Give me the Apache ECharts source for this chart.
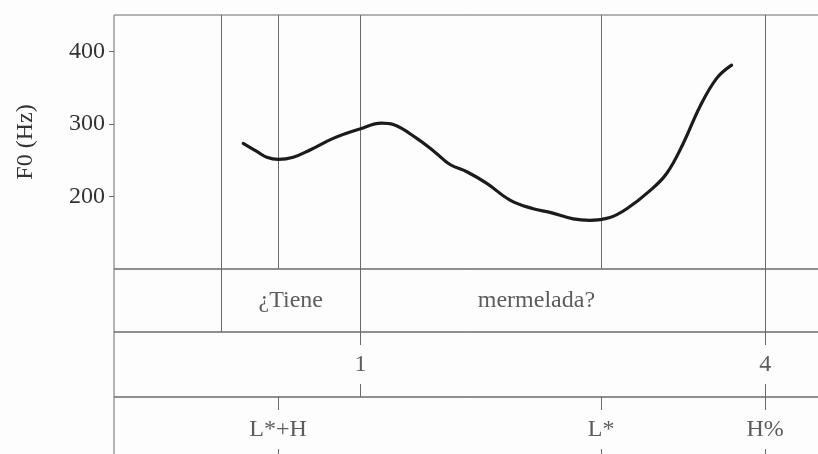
<!DOCTYPE html>
<html>
<head>
<meta charset="utf-8">
<title>F0 contour – ¿Tiene mermelada?</title>
<script src="https://cdn.jsdelivr.net/npm/echarts@6/dist/echarts.min.js"></script>
<style>
  html, body { margin: 0; padding: 0; background: #fdfdfd; }
  #chart { width: 818px; height: 454px; }
</style>
</head>
<body>
<div id="chart"></div>
<script>
// Pitch track (time in s, F0 in Hz)
const f0Times  = [0.323, 0.357, 0.382, 0.411, 0.448, 0.490, 0.548, 0.615, 0.669, 0.698,
                  0.757, 0.8025, 0.840, 0.882, 0.932, 0.990, 1.048, 1.090, 1.148, 1.190,
                  1.240, 1.282, 1.340, 1.382, 1.423, 1.465, 1.507, 1.544];
const f0Values = [273, 262, 254, 251, 254, 264, 280, 293, 301, 299,
                  280, 261, 244, 234, 218, 195, 183, 178, 169, 167,
                  171, 183, 208, 232, 273, 324, 363, 381];

// Word tier
const wordBounds = [0.268, 0.616, 1.628];
const wordLabels = ['¿Tiene', 'mermelada?'];
const wordLabelTimes = [0.442, 1.056];

// Break-index tier
const breakTimes = [0.616, 1.628];
const breakLabels = ['1', '4'];

// Tone tier
const toneTimes = [0.41, 1.218, 1.628];
const toneLabels = ['L*+H', 'L*', 'H%'];

// F0 axis ticks
const f0Ticks = [200, 300, 400];

const T_MAX = 1.8;
const FONT = 'Liberation Serif';
const TEXT = '#333';
const RULE = '#6a6a6a';

const chart = echarts.init(document.getElementById('chart'), null, { renderer: 'canvas' });

const gridBase = { left: 114, width: 720, show: true, borderColor: RULE, borderWidth: 1,
                   backgroundColor: 'transparent', outerBoundsMode: 'none', containLabel: false };
const grids = [
  Object.assign({ top: 15, height: 254 }, gridBase),
  Object.assign({ top: 269, height: 63 }, gridBase),
  Object.assign({ top: 332, height: 65 }, gridBase),
  Object.assign({ top: 397, height: 65 }, gridBase)
];

const xAxes = grids.map((g, i) => ({
  type: 'value', gridIndex: i, min: 0, max: T_MAX, show: false
}));

const Y_MIN = 100, Y_MAX = 450;
const yAxes = [
  {
    type: 'value', gridIndex: 0, min: Y_MIN, max: Y_MAX, interval: 100,
    name: 'F0 (Hz)', nameLocation: 'middle', nameRotate: 90, nameGap: 76,
    nameTextStyle: { fontFamily: FONT, fontSize: 24, color: TEXT },
    axisLine: { show: false },
    axisTick: { show: true, length: 5, customValues: f0Ticks, lineStyle: { color: RULE, width: 1 } },
    axisLabel: { customValues: f0Ticks, margin: 9, fontFamily: FONT, fontSize: 24, color: TEXT },
    splitLine: { show: false }
  },
  { type: 'value', gridIndex: 1, min: 0, max: 1, show: false },
  { type: 'value', gridIndex: 2, min: 0, max: 1, show: false },
  { type: 'value', gridIndex: 3, min: 0, max: 1, show: false }
];

const markBase = { silent: true, symbol: 'none', label: { show: false }, animation: false,
                   lineStyle: { color: RULE, width: 1, type: 'solid' }, emphasis: { disabled: true } };

// Full-height boundaries in the pitch panel: word edges and tone anchors
const panelLines = Array.from(new Set([...wordBounds, ...toneTimes])).sort((a, b) => a - b);

function fullLines(times, lo, hi) {
  return times.map(t => [{ coord: [t, lo] }, { coord: [t, hi] }]);
}

// Short ticks at the top and bottom of a point tier
function pointTicks(times) {
  const out = [];
  times.forEach(t => {
    out.push([{ coord: [t, 1] }, { coord: [t, 0.8] }]);
    out.push([{ coord: [t, 0.2] }, { coord: [t, 0] }]);
  });
  return out;
}

function tierText(idx, times, labels) {
  return {
    type: 'scatter', xAxisIndex: idx, yAxisIndex: idx, silent: true,
    symbolSize: 1, itemStyle: { color: 'transparent' },
    data: times.map((t, i) => ({ value: [t, 0.5], name: labels[i] })),
    label: { show: true, position: 'inside', formatter: p => p.name,
             fontFamily: FONT, fontSize: 24, color: TEXT },
    animation: false, z: 5
  };
}

const series = [
  {
    type: 'line', xAxisIndex: 0, yAxisIndex: 0,
    data: f0Times.map((t, i) => [t, f0Values[i]]),
    smooth: 0.4, showSymbol: false, symbol: 'none',
    lineStyle: { color: '#1b1b1b', width: 3.2, cap: 'round', join: 'round' },
    animation: false, z: 10,
    markLine: Object.assign({ data: fullLines(panelLines, Y_MIN, Y_MAX) }, markBase)
  },
  // word tier boundaries
  {
    type: 'line', xAxisIndex: 1, yAxisIndex: 1, data: [], animation: false,
    markLine: Object.assign({ data: fullLines(wordBounds, 0, 1) }, markBase)
  },
  tierText(1, wordLabelTimes, wordLabels),
  // break-index tier
  {
    type: 'line', xAxisIndex: 2, yAxisIndex: 2, data: [], animation: false,
    markLine: Object.assign({ data: pointTicks(breakTimes) }, markBase)
  },
  tierText(2, breakTimes, breakLabels),
  // tone tier
  {
    type: 'line', xAxisIndex: 3, yAxisIndex: 3, data: [], animation: false,
    markLine: Object.assign({ data: pointTicks(toneTimes) }, markBase)
  },
  tierText(3, toneTimes, toneLabels)
];

chart.setOption({
  backgroundColor: '#fdfdfd',
  animation: false,
  grid: grids,
  xAxis: xAxes,
  yAxis: yAxes,
  series: series
});
</script>
</body>
</html>
